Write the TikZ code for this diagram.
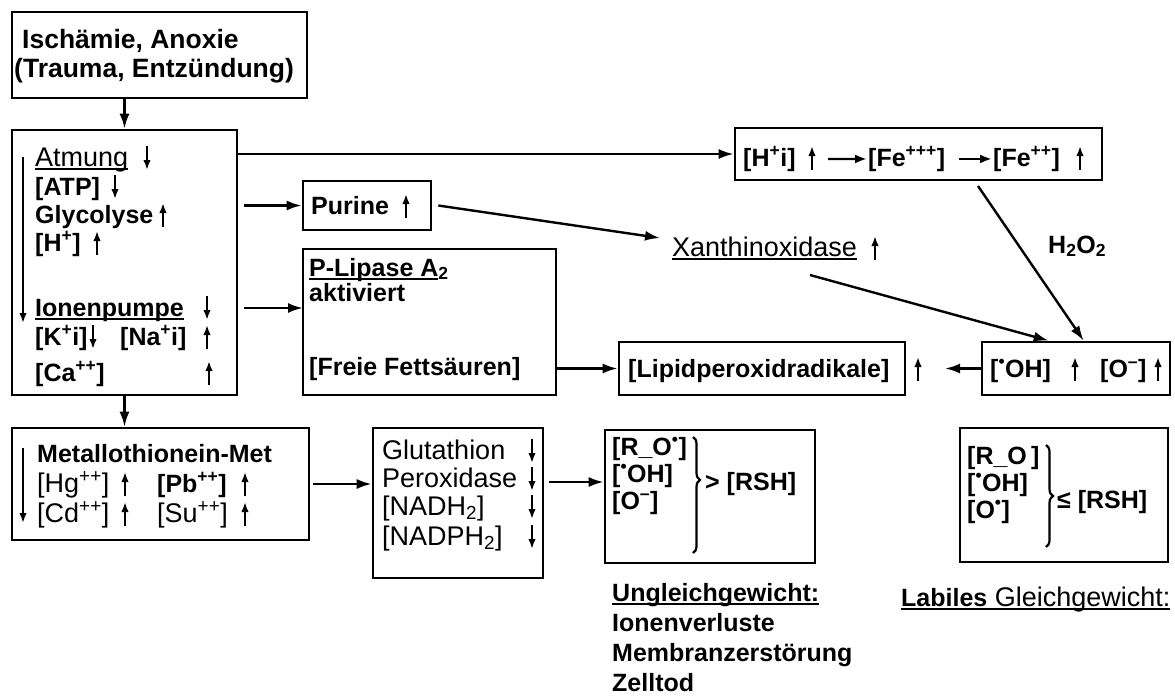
\documentclass[tikz,border=0pt]{standalone}
\usepackage{fontspec}
\setmainfont{Liberation Sans}
\usetikzlibrary{arrows.meta,decorations.pathreplacing,calc}
\newlength\ulw
\newcommand\ulx[1]{\settowidth\ulw{#1}\rlap{\rule[-3.5pt]{\ulw}{1.7pt}}#1}
\newcommand\sps[1]{\textsuperscript{#1}}
\newcommand\sbs[1]{\textsubscript{#1}}
\newcommand\UA[2]{\draw[sarr] (#1,#2+4) -- (#1,#2-20);}
\newcommand\DA[2]{\draw[sarr] (#1,#2-20) -- (#1,#2+4);}
\begin{document}
\begin{tikzpicture}[x=1pt,y=-1pt,
  box/.style={draw,line width=2.6pt,inner sep=0pt},
  tb/.style={anchor=base west,inner sep=0pt,font=\fontsize{25}{30}\selectfont\bfseries},
  tbl/.style={anchor=base west,inner sep=0pt,font=\fontsize{26.5}{30}\selectfont\bfseries},
  tr/.style={anchor=base west,inner sep=0pt,font=\fontsize{27}{30}\selectfont},
  arr/.style={line width=2.4pt,-{Latex[length=15pt,width=10pt]}},
  arrs/.style={line width=2.4pt,-{Latex[length=12pt,width=9pt]},shorten >=1pt},
  sarr/.style={line width=2.3pt,-{Latex[length=10pt,width=7.5pt]}},
  brc/.style={draw,line width=2.2pt,decorate,decoration={brace,amplitude=7pt,aspect=#1}}]
\useasboundingbox (0,0) rectangle (1175,699);
% boxes
\node[box,minimum width=295pt,minimum height=86pt] (isch) at (159.5,55) {};
\node[box,minimum width=225pt,minimum height=265pt] (stoff) at (124.5,262.5) {};
\node[box,minimum width=367pt,minimum height=52pt] (hfe) at (918.5,154) {};
\node[box,minimum width=128pt,minimum height=49pt] (pur) at (367,205.5) {};
\node[box,minimum width=253pt,minimum height=146pt] (lip) at (429.5,322) {};
\node[box,minimum width=286pt,minimum height=53pt] (lpr) at (762,368.5) {};
\node[box,minimum width=188pt,minimum height=53pt] (ohb) at (1076,368.5) {};
\node[box,minimum width=297pt,minimum height=112pt] (met) at (160.5,484) {};
\node[box,minimum width=170pt,minimum height=150pt] (glu) at (458,503) {};
\node[box,minimum width=210pt,minimum height=133pt] (ro1) at (710,496.5) {};
\node[box,minimum width=208pt,minimum height=134pt] (ro2) at (1064,495) {};
% Ischaemie
\node[tbl] (t1) at (22,48) {Ischämie, Anoxie};
\node[tbl] (t2) at (14,77) {(Trauma, Entzündung)};
% Stoffwechsel box
\node[tr] (s1) at (35,166) {\ulx{Atmung}}; \DA{147}{166}
\node[tb] (s2) at (35,195) {[ATP]}; \DA{115}{195}
\node[tb] (s3) at (35,223) {Glycolyse}; \UA{163}{223}
\node[tb] (s4) at (35,251) {[H\sps{+}]}; \UA{97}{251}
\node[tb] (s5) at (35,316) {\ulx{Ionenpumpe}}; \DA{207}{316}
\node[tb] (s6) at (35,345) {[K\sps{+}i]}; \DA{93}{345}
\node[tb] (s7) at (120,345) {[Na\sps{+}i]}; \UA{207}{345}
\node[tb] (s8) at (35,381) {[Ca\sps{++}]}; \UA{209}{381}
\draw[sarr] (23,157) -- (23,323);
% Purine, Lipase
\node[tb] (p1) at (311,214) {Purine}; \UA{406}{214}
\node[tb] (l1) at (309,276) {\ulx{P-Lipase A}\sbs{2}};
\node[tb] (l2) at (309,301) {aktiviert};
\node[tb] (l3) at (309,375) {[Freie Fettsäuren]};
% Xanthinoxidase, Fe box
\node[tr] (xan) at (672,256) {\ulx{Xanthinoxidase}}; \UA{875}{256}
\node[tb] (hi) at (743,166) {[H\sps{+}i]}; \UA{812}{166}
\node[tb] (fe3) at (868,166) {[Fe\sps{+++}]};
\node[tb] (fe2) at (993,166) {[Fe\sps{++}]}; \UA{1080}{166}
\node[tb] (h2o2) at (1048,253) {H\sbs{2}O\sbs{2}};
% Lipid, OH
\node[tb] (lt) at (628,377) {[Lipidperoxidradikale]}; \UA{918}{377}
\node[tb] (o1) at (990,377) {[\sps{•}OH]}; \UA{1075}{377}
\node[tb] (o2) at (1100,377) {[O\sps{–}]}; \UA{1158}{377}
% Metallothionein
\node[tb] (m1) at (37,462) {Metallothionein-Met};
\node[tr] (m2) at (37,492) {[Hg\sps{++}]}; \UA{125}{492}
\node[tb] (m3) at (157,492) {[Pb\sps{++}]}; \UA{245}{492}
\node[tr] (m4) at (37,522) {[Cd\sps{++}]}; \UA{125}{522}
\node[tr] (m5) at (157,522) {[Su\sps{++}]}; \UA{245}{522}
\draw[sarr] (23,448) -- (23,523);
% Glutathion
\node[tr] (g1) at (382,459) {Glutathion}; \DA{532}{459}
\node[tr] (g2) at (382,487) {Peroxidase}; \DA{532}{487}
\node[tr] (g3) at (382,515) {[NADH\sbs{2}]}; \DA{532}{515}
\node[tr] (g4) at (382,545) {[NADPH\sbs{2}]}; \DA{532}{545}
% RO boxes
\node[tb] (r1) at (612,455) {[R\_O\sps{•}]};
\node[tb] (r2) at (612,482) {[\sps{•}OH]};
\node[tb] (r3) at (612,509) {[O\sps{–}]};
\draw[brc=0.37] (693,437) -- (693,553);
\node[tb] (r4) at (705,490) {> [RSH]};
\node[tb] (q1) at (967,464) {[R\_O\,]};
\node[tb] (q2) at (967,491) {[\sps{•}OH]};
\node[tb] (q3) at (967,518) {[O\sps{•}]};
\draw[brc=0.5] (1046,445) -- (1046,547);
\node[tb] (q4) at (1057,508) {≤ [RSH]};
% captions
\node[tb] (u1) at (612,601) {\ulx{Ungleichgewicht:}};
\node[tb] (u2) at (612,631) {Ionenverluste};
\node[tb] (u3) at (612,661) {Membranzerstörung};
\node[tb] (u4) at (612,691) {Zelltod};
\node[tr] (v1) at (901,606) {\ulx{{\fontsize{25}{30}\selectfont\bfseries Labiles} Gleichgewicht:}};
% connectors
\draw[arr] (stoff.north |- isch.south) -- (stoff.north);
\draw[arr] (stoff.east |- hfe.west) -- (hfe.west);
\draw[arr] ([xshift=6pt]stoff.east |- pur.west) -- (pur.west);
\coordinate (lipin) at (303,308);
\draw[arr] ([xshift=6pt]stoff.east |- lipin) -- (lipin);
\coordinate (xanin) at (660,238);
\draw[arr] ([xshift=6pt]pur.east) -- (xanin);
\draw[arr] (lip.east |- lpr.west) -- (lpr.west);
\coordinate (ohend) at (945,368.5);
\draw[arr] (ohb.west) -- (ohend);
\coordinate (xanout) at (810,275);
\draw[arr] (xanout) -- ($(ohb.north west)+(68,0)$);
\coordinate (feout) at (978,186);
\draw[arr] (feout) -- ($(ohb.north west)+(103,0)$);
\coordinate (hia) at (828,159);
\draw[arrs] (hia) -- (fe3.west);
\draw[arrs] ([xshift=14pt]fe3.east) -- (fe2.west);
\draw[arr] (stoff.south) -- (stoff.south |- met.north);
\draw[arr] ([xshift=3pt]met.east) -- (met.east -| glu.west);
\coordinate (gluout) at (549,482);
\draw[arr] (gluout) -- (gluout -| ro1.west);
\end{tikzpicture}
\end{document}
